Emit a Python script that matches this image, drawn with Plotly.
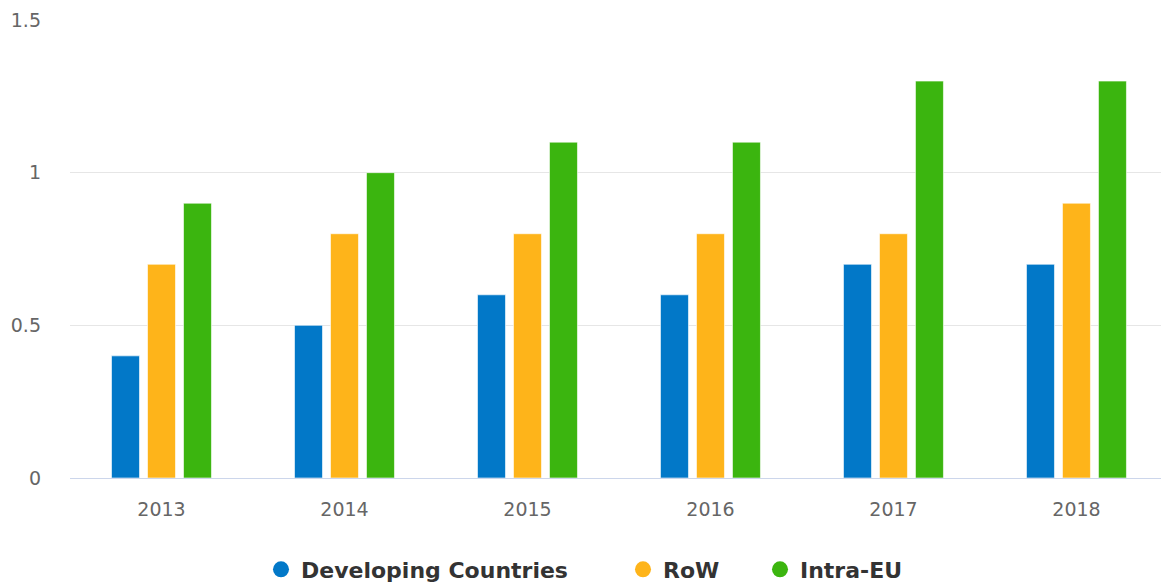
import plotly.graph_objects as go

years = ["2013", "2014", "2015", "2016", "2017", "2018"]
developing = [0.4, 0.5, 0.6, 0.6, 0.7, 0.7]
row = [0.7, 0.8, 0.8, 0.8, 0.8, 0.9]
intra_eu = [0.9, 1.0, 1.1, 1.1, 1.3, 1.3]

series = [
    ("Developing Countries", developing, "#0278c8", 317),
    ("RoW", row, "#feb41a", 92),
    ("Intra-EU", intra_eu, "#3bb50f", None),
]

fig = go.Figure()
for name, vals, color, lw in series:
    fig.add_trace(go.Bar(
        x=years, y=vals, name=name, showlegend=False,
        marker=dict(color=color, line=dict(color="rgba(255,255,255,0.6)", width=1)),
    ))
for name, vals, color, lw in series:
    kw = {}
    if lw:
        kw["legendwidth"] = lw
    fig.add_trace(go.Scatter(
        x=[None], y=[None], mode="markers", name=name,
        marker=dict(color=color, size=20, symbol="circle"),
        showlegend=True, **kw,
    ))

fig.update_layout(
    width=1161, height=587,
    margin=dict(l=70, r=0, t=20, b=109, autoexpand=False),
    paper_bgcolor="white", plot_bgcolor="white",
    barmode="group", bargap=0.41, bargroupgap=0.222,
    font=dict(family="DejaVu Sans", color="#666666"),
    legend=dict(
        orientation="h", x=(261 - 70) / 1091, xanchor="left",
        y=-0.154, yanchor="top",
        font=dict(family="DejaVu Sans", size=22, color="#333333", weight="bold"),
        bgcolor="rgba(0,0,0,0)", itemclick=False,
    ),
    xaxis=dict(
        type="category", range=[-0.5, 5.462],
        showgrid=False, showline=True, linecolor="#ccd6eb", linewidth=1,
        ticks="", tickfont=dict(size=19, color="#666666"),
        ticklabelstandoff=14,
    ),
    yaxis=dict(
        range=[0, 1.5], dtick=0.5, tick0=0,
        showgrid=True, gridcolor="#e6e6e6", gridwidth=1,
        zeroline=False, showline=False, ticks="",
        tickfont=dict(size=19, color="#666666"),
        ticklabelstandoff=28,
    ),
)

fig.write_html("out.html")
